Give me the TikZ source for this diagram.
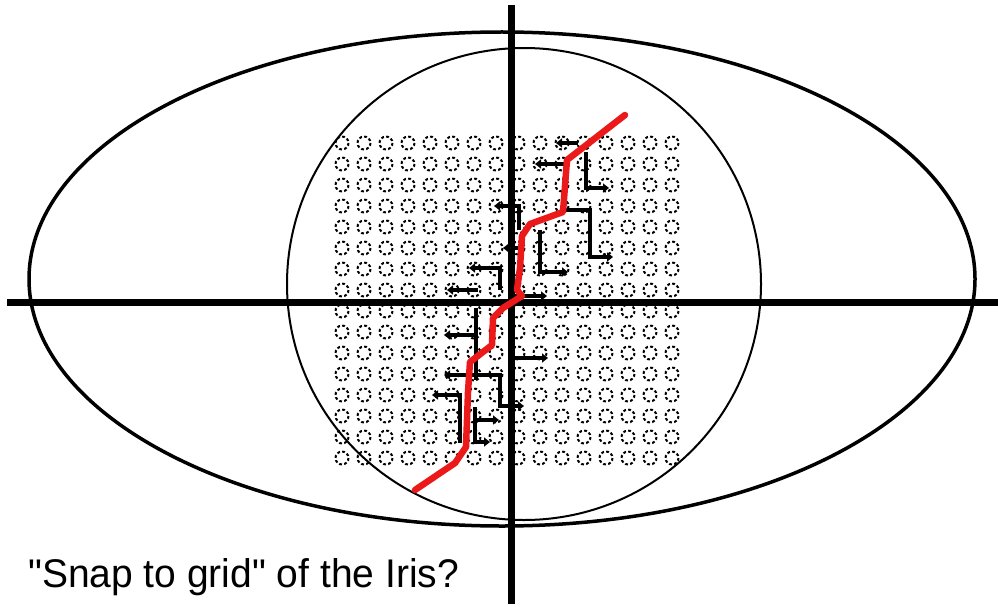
\documentclass[tikz,border=0pt]{standalone}
\usepackage{fontspec}
\newfontfamily\capfont{Liberation Sans}
\usetikzlibrary{arrows.meta}
\definecolor{pen}{RGB}{235,25,25}
\begin{document}
\begin{tikzpicture}[x=1pt,y=-1pt,
  axisline/.style={line width=7pt},
  gridcirc/.style={line width=2pt, dash pattern=on 2.8pt off 2.3pt},
  snap/.style={line width=4pt, -{Triangle[length=6pt,width=9pt]}},
  snapline/.style={line width=4pt},
  redpath/.style={pen, line width=6.5pt, line join=round, line cap=round}]
\useasboundingbox[fill=white] (0,0) rectangle (998,607);
% eye outline and iris
\draw[line width=3.5pt] (502,279) ellipse [x radius=473, y radius=247];
\draw[line width=2pt] (524,284) ellipse [x radius=237, y radius=236];
% grid of dotted circles
\foreach \i in {0,...,15}
  \foreach \j in {0,...,15}
    \draw[gridcirc] ({342+22*\i},{143+21*\j}) circle[radius=6.5];
% axes
\draw[axisline] (511,5) -- (511,604);
\draw[axisline] (7,302) -- (998,302);
% snap vectors
\draw[snap] (578,143) -- (556,143);
\draw[snap] (565,164) -- (535,164);
\draw[snap] (586,152) -- (586,188) -- (609,188);
\draw[snap] (519,230) -- (519,206) -- (494,206);
\draw[snap] (563,210) -- (590,210) -- (590,257) -- (613,257);
\draw[snap] (540,230) -- (540,272) -- (568,272);
\draw[snap] (522,248) -- (503,248);
\draw[snap] (500,290) -- (500,268) -- (469,268);
\draw[snap] (478,290) -- (447,290);
\draw[snap] (511,296) -- (547,296);
\draw[snapline] (476,308) -- (476,380);
\draw[snap] (476,335) -- (444,335);
\draw[snap] (512,358) -- (548,358);
\draw[snap] (500,390) -- (500,375) -- (444,375);
\draw[snap] (500,390) -- (500,406) -- (524,406);
\draw[snap] (460,443) -- (460,395) -- (432,395);
\draw[snap] (475,407) -- (475,420) -- (499,420);
\draw[snap] (475,420) -- (475,442) -- (490,442);
% red path
\draw[redpath] (625,115) -- (567,160) -- (563,212) -- (530,224) -- (522,236)
  -- (520,268) -- (517,290) -- (522,296) -- (503,308) -- (493,318)
  -- (492,345) -- (470,362) -- (468,392) -- (466,447) -- (455,463) -- (415,490);
% caption
\node[anchor=base west, inner sep=0pt, xscale=0.975,
  font=\capfont\fontsize{40}{42}\selectfont]
  (caption) at (28,587) {"Snap to grid" of the Iris?};
\end{tikzpicture}
\end{document}
